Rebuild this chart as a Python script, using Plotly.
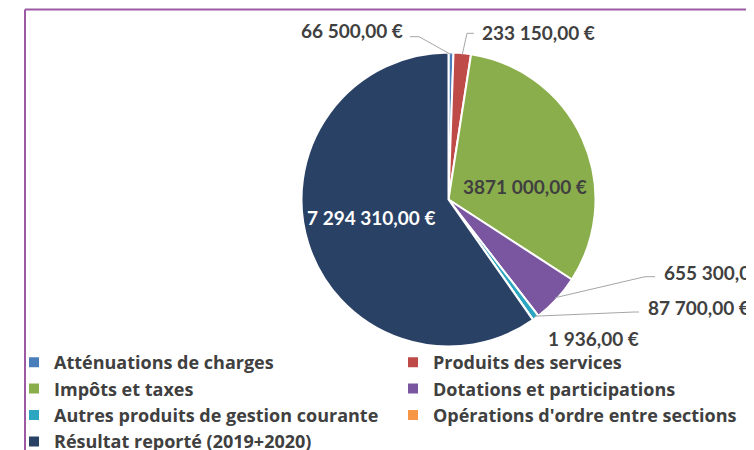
import math
import plotly.graph_objects as go

# ---------------- data ----------------
categories = [
    "Atténuations de charges",
    "Produits des services",
    "Impôts et taxes",
    "Dotations et participations",
    "Autres produits de gestion courante",
    "Opérations d'ordre entre sections",
    "Résultat reporté (2019+2020)",
]
values = [66500, 233150, 3871000, 655300, 87700, 1936, 7294310]
value_labels = [
    "66 500,00 €",
    "233 150,00 €",
    "3871 000,00 €",
    "655 300,00 €",
    "87 700,00 €",
    "1 936,00 €",
    "7 294 310,00 €",
]
colors = ["#4A7EBB", "#BE4B48", "#8BAE4D", "#7A56A0", "#2CA5C0", "#F79646", "#2A4166"]

# ---------------- layout helpers ----------------
# The page body has an 8px margin, so screen coordinates are offset by 8px.
# The figure is made larger than the window so the legend is never clamped.
W, H = 800, 500
OX, OY = 8, 8
CX, CY, R = 448.5, 199.5, 147.0          # pie centre / radius, screen px
FONT = "Lato"
LEGEND_FONT = "Open Sans"
LABEL_COLOR = "#404040"
LABEL_SIZE = 19
LEGEND_SIZE = 18


def fx(x):
    return (x - OX) / W


def fy(y):
    return 1 - (y - OY) / H


# label placement (screen pixel positions of text and leader elbows)
label_style = [
    dict(kind="out", x=405, y=30.5, xanchor="right", elbow=[(410, 36.7), (419, 36.7)]),
    dict(kind="out", x=480, y=32, xanchor="left", elbow=[(474, 33.3), (467, 33.3)]),
    dict(kind="in", x=525, y=186, color=LABEL_COLOR),
    dict(kind="out", x=662, y=272, xanchor="left", elbow=[(655, 276.7), (645, 276.7)]),
    dict(kind="out", x=646, y=307, xanchor="left", elbow=[(639, 312), (634, 312)]),
    dict(kind="plain", x=593, y=338),
    dict(kind="in", x=371, y=218, color="white"),
]

total = float(sum(values))
mid_angles = []
acc = 0.0
for v in values:
    mid_angles.append((acc + v / 2) / total * 360.0)
    acc += v

annotations = []
shapes = []
for lab, st, ang in zip(value_labels, label_style, mid_angles):
    color = st.get("color", LABEL_COLOR)
    xanchor = st.get("xanchor", "center")
    annotations.append(dict(
        x=fx(st["x"]), y=fy(st["y"]), xref="paper", yref="paper",
        text=lab, showarrow=False, xanchor=xanchor, yanchor="middle",
        font=dict(family=FONT, size=LABEL_SIZE, color=color, weight="bold"),
    ))
    if st["kind"] == "out":
        a = math.radians(ang)
        ex = CX + (R - 2) * math.sin(a)
        ey = CY - (R - 2) * math.cos(a)
        pts = st["elbow"] + [(ex, ey)]
        path = "M " + " L ".join(f"{fx(px)},{fy(py)}" for px, py in pts)
        shapes.append(dict(type="path", xref="paper", yref="paper", path=path,
                           line=dict(color="#A6A6A6", width=1)))

# purple frame (top and left edges visible)
shapes.append(dict(type="line", xref="paper", yref="paper",
                   x0=fx(25), y0=fy(9.5), x1=1.0, y1=fy(9.5),
                   line=dict(color="#9C5AA3", width=2)))
shapes.append(dict(type="line", xref="paper", yref="paper",
                   x0=fx(25), y0=fy(9.5), x1=fx(25), y1=0.0,
                   line=dict(color="#9C5AA3", width=2)))

fig = go.Figure(go.Pie(
    labels=categories,
    values=values,
    sort=False,
    direction="clockwise",
    rotation=0,
    textinfo="none",
    hoverinfo="label+value",
    marker=dict(colors=colors, line=dict(color="white", width=2)),
    domain=dict(x=[fx(CX - R), fx(CX + R)], y=[fy(CY + R), fy(CY - R)]),
))

fig.update_layout(
    width=W, height=H,
    margin=dict(l=0, r=0, t=0, b=0),
    paper_bgcolor="white",
    plot_bgcolor="white",
    font=dict(family=LEGEND_FONT, size=LEGEND_SIZE, color=LABEL_COLOR),
    showlegend=True,
    legend=dict(
        orientation="h",
        x=fx(14), y=fy(344), xanchor="left", yanchor="top",
        entrywidth=334, entrywidthmode="pixels",
        traceorder="normal",
        font=dict(family=LEGEND_FONT, size=LEGEND_SIZE, color=LABEL_COLOR, weight="bold"),
        bgcolor="rgba(0,0,0,0)",
    ),
    annotations=annotations,
    shapes=shapes,
)

fig.write_html("out.html")
